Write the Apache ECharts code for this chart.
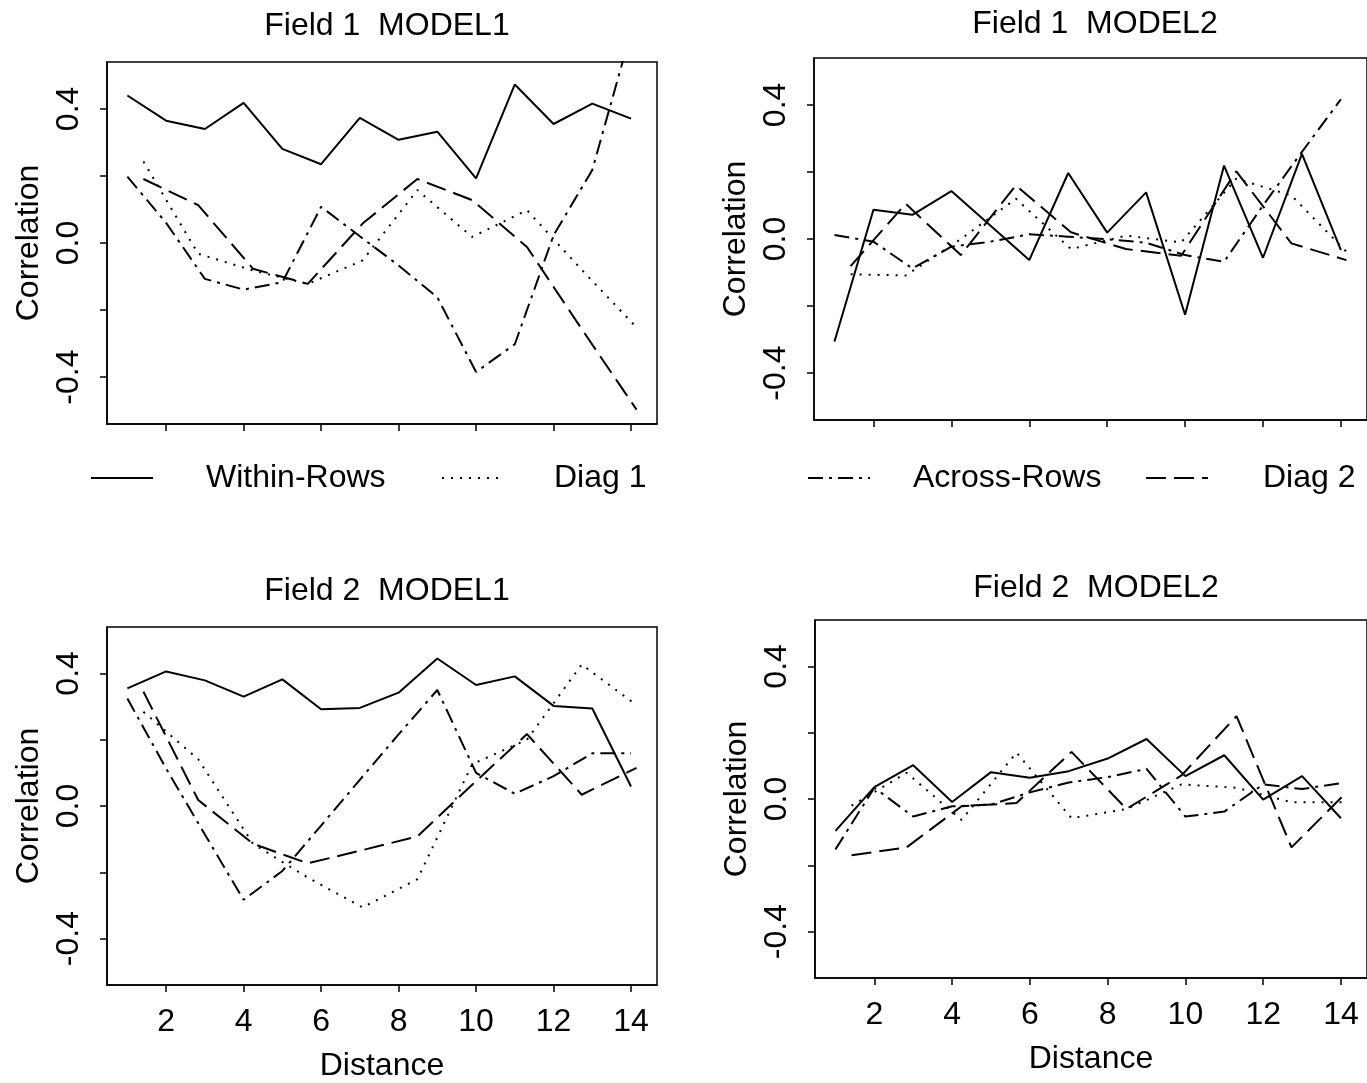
<!DOCTYPE html>
<html>
<head>
<meta charset="utf-8">
<script src="https://cdn.jsdelivr.net/npm/echarts@6/dist/echarts.min.js"></script>
<style>
html, body { margin: 0; padding: 0; background: #fff; }
#box { width: 1367px; height: 1083px; }
</style>
</head>
<body>
<div id="box"></div>
<script>
// distances: within/across rows at integer lags, diagonals at k*sqrt(2)
var distRows = [1, 2, 3, 4, 5, 6, 7, 8, 9, 10, 11, 12, 13, 14];
var distDiag = [1.414, 2.828, 4.243, 5.657, 7.071, 8.485, 9.899, 11.314, 12.728, 14.142];
var xTicks = [2, 4, 6, 8, 10, 12, 14];
var yTicks = [-0.4, -0.2, 0, 0.2, 0.4];
var yLabels = [-0.4, 0, 0.4];
var seriesNames = ['Within-Rows', 'Diag 1', 'Across-Rows', 'Diag 2'];
var panelTitles = ['Field 1  MODEL1', 'Field 1  MODEL2', 'Field 2  MODEL1', 'Field 2  MODEL2'];

// Field 1 MODEL1
var f1m1Within = [0.44, 0.365, 0.34, 0.418, 0.281, 0.235, 0.373, 0.308, 0.332, 0.193, 0.473, 0.355, 0.416, 0.371];
var f1m1Diag1 = [0.243, -0.032, -0.082, -0.122, -0.052, 0.158, 0.018, 0.098, -0.08, -0.252];
var f1m1Across = [0.198, 0.06, -0.107, -0.139, -0.117, 0.108, 0.02, -0.067, -0.162, -0.385, -0.302, 0.023, 0.218, 0.63];
var f1m1Diag2 = [0.191, 0.113, -0.077, -0.122, 0.058, 0.191, 0.128, -0.012, -0.257, -0.497];
// Field 1 MODEL2
var f1m2Within = [-0.306, 0.087, 0.072, 0.143, 0.04, -0.063, 0.197, 0.019, 0.139, -0.226, 0.219, -0.056, 0.254, -0.033];
var f1m2Diag1 = [-0.105, -0.109, 0.0, 0.12, -0.03, 0.01, -0.01, 0.18, 0.13, -0.038];
var f1m2Across = [0.012, -0.008, -0.088, -0.023, -0.008, 0.014, 0.007, -0.001, -0.011, -0.048, -0.068, 0.10, 0.26, 0.417];
var f1m2Diag2 = [-0.081, 0.105, -0.048, 0.16, 0.02, -0.03, -0.05, 0.202, -0.013, -0.063];
// Field 2 MODEL1
var f2m1Within = [0.355, 0.406, 0.379, 0.33, 0.382, 0.292, 0.296, 0.342, 0.445, 0.365, 0.391, 0.302, 0.294, 0.059];
var f2m1Diag1 = [0.284, 0.141, -0.114, -0.216, -0.306, -0.221, 0.126, 0.2, 0.427, 0.304];
var f2m1Across = [0.324, 0.113, -0.086, -0.283, -0.196, -0.059, 0.079, 0.216, 0.35, 0.1, 0.037, 0.09, 0.159, 0.159];
var f2m1Diag2 = [0.345, 0.018, -0.114, -0.173, -0.133, -0.092, 0.064, 0.217, 0.034, 0.115];
// Field 2 MODEL2
var f2m2Within = [-0.096, 0.036, 0.102, -0.009, 0.081, 0.064, 0.084, 0.122, 0.181, 0.069, 0.132, -0.002, 0.069, -0.058];
var f2m2Diag1 = [-0.02, 0.079, -0.063, 0.14, -0.058, -0.03, 0.044, 0.034, -0.01, -0.01];
var f2m2Across = [-0.152, 0.034, -0.053, -0.022, -0.017, 0.02, 0.05, 0.066, 0.091, -0.053, -0.038, 0.044, 0.03, 0.048];
var f2m2Diag2 = [-0.17, -0.146, -0.022, -0.012, 0.142, -0.03, 0.071, 0.25, -0.146, 0.02];

var panels = [
  [f1m1Within, f1m1Diag1, f1m1Across, f1m1Diag2],
  [f1m2Within, f1m2Diag1, f1m2Across, f1m2Diag2],
  [f2m1Within, f2m1Diag1, f2m1Across, f2m1Diag2],
  [f2m2Within, f2m2Diag1, f2m2Across, f2m2Diag2]
];
var seriesX = [distRows, distDiag, distRows, distDiag];
var seriesDash = ['solid', [2, 7], [15, 6, 3, 6], [20, 8]];

var font = 'Liberation Sans, Arial, Helvetica, sans-serif';
var fs = 32;
var grids = [
  {left: 107, top: 62, width: 550, height: 362},
  {left: 814, top: 58, width: 556, height: 362},
  {left: 107, top: 627, width: 550, height: 358},
  {left: 815, top: 620, width: 556, height: 358}
];
var titleY = [5, 3, 570, 567];

function zip(xs, ys) {
  return ys.map(function (y, i) { return [xs[i], y]; });
}

let myChart = echarts.init(document.getElementById('box'));

let option = {
  animation: false,
  backgroundColor: '#fff',
  color: ['#000'],
  textStyle: {fontFamily: font, color: '#000'},
  title: grids.map(function (g, i) {
    return {
      text: panelTitles[i],
      left: g.left + g.width / 2 - (i % 2 ? 2 : 0),
      top: titleY[i],
      textAlign: 'center',
      textStyle: {fontFamily: font, fontSize: fs, fontWeight: 'normal', color: '#000'}
    };
  }),
  legend: [
    {data: ['Within-Rows'], left: 85, top: 457, itemWidth: 62},
    {data: ['Diag 1'], left: 436, top: 457, itemWidth: 62},
    {data: ['Across-Rows'], left: 802, top: 457, itemWidth: 62},
    {data: ['Diag 2'], left: 1140, top: 457, itemWidth: 62}
  ].map(function (l, i) {
    l.itemHeight = 12;
    l.selectedMode = false;
    l.itemStyle = {opacity: 0};
    l.textStyle = {fontFamily: font, fontSize: fs, color: '#000', padding: [0, 0, 0, [48, 45, 38, 50][i]]};
    return l;
  }),
  grid: grids.map(function (g) {
    return Object.assign({show: true, borderColor: '#000', borderWidth: 1.5, containLabel: false}, g);
  }),
  xAxis: grids.map(function (g, i) {
    return {
      gridIndex: i,
      type: 'value',
      min: 0.474,
      max: 14.67,
      name: i >= 2 ? 'Distance' : '',
      nameLocation: 'middle',
      nameGap: 65,
      nameTextStyle: {fontFamily: font, fontSize: fs, color: '#000'},
      axisLine: {show: true, onZero: false, lineStyle: {color: '#000', width: 1.5}},
      axisTick: {show: true, length: 7, customValues: xTicks, lineStyle: {color: '#000', width: 1.5}},
      axisLabel: {show: i >= 2, customValues: xTicks, margin: 21, fontFamily: font, fontSize: fs, color: '#000'},
      splitLine: {show: false}
    };
  }),
  yAxis: grids.map(function (g, i) {
    return {
      gridIndex: i,
      type: 'value',
      min: -0.54,
      max: 0.54,
      name: 'Correlation',
      nameLocation: 'middle',
      nameGap: 62,
      nameTextStyle: {fontFamily: font, fontSize: fs, color: '#000'},
      axisLine: {show: true, lineStyle: {color: '#000', width: 1.5}},
      axisTick: {show: true, length: 7, customValues: yTicks, lineStyle: {color: '#000', width: 1.5}},
      axisLabel: {
        customValues: yLabels, rotate: 90, margin: 22,
        fontFamily: font, fontSize: fs, color: '#000',
        formatter: function (v) { return v.toFixed(1); }
      },
      splitLine: {show: false}
    };
  }),
  series: []
};

panels.forEach(function (vals, p) {
  vals.forEach(function (ys, s) {
    option.series.push({
      name: seriesNames[s],
      type: 'line',
      xAxisIndex: p,
      yAxisIndex: p,
      data: zip(seriesX[s], ys),
      symbol: 'none',
      clip: true,
      itemStyle: {color: '#000'},
      lineStyle: {color: '#000', width: 2, type: seriesDash[s]}
    });
  });
});

myChart.setOption(option);
</script>
</body>
</html>
